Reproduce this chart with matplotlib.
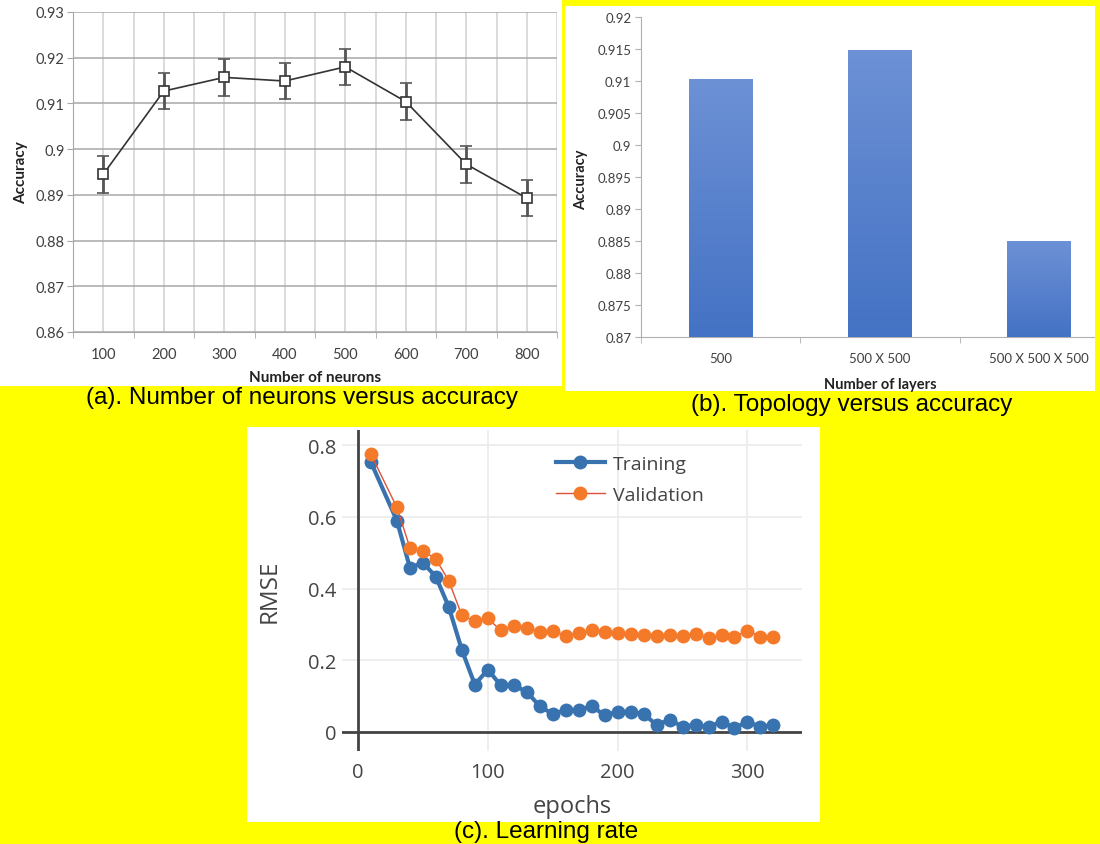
import matplotlib
matplotlib.use('Agg')
import matplotlib.pyplot as plt
from matplotlib.patches import Rectangle
from matplotlib.colors import LinearSegmentedColormap
import numpy as np

# (a) number of neurons vs accuracy
neurons = ['100', '200', '300', '400', '500', '600', '700', '800']
neuron_acc = [0.8945, 0.9127, 0.9157, 0.9149, 0.9180, 0.9104, 0.8967, 0.8893]
neuron_err = [0.004, 0.004, 0.004, 0.004, 0.004, 0.004, 0.004, 0.004]
neuron_yticks = [0.86, 0.87, 0.88, 0.89, 0.90, 0.91, 0.92, 0.93]
neuron_ylabels = ['0.86', '0.87', '0.88', '0.89', '0.9', '0.91', '0.92', '0.93']

# (b) topology vs accuracy
layers = ['500', '500 X 500', '500 X 500 X 500']
layer_acc = [0.9103, 0.9147, 0.8850]
layer_yticks = [0.87, 0.875, 0.88, 0.885, 0.89, 0.895, 0.90, 0.905, 0.91, 0.915, 0.92]
layer_ylabels = ['0.87', '0.875', '0.88', '0.885', '0.89', '0.895', '0.9',
                 '0.905', '0.91', '0.915', '0.92']

# (c) learning curve
epochs = [10, 30, 40, 50, 60, 70, 80, 90, 100, 110, 120, 130, 140, 150, 160,
          170, 180, 190, 200, 210, 220, 230, 240, 250, 260, 270, 280, 290,
          300, 310, 320]
rmse_train = [0.752, 0.589, 0.458, 0.472, 0.433, 0.348, 0.229, 0.132, 0.174,
              0.130, 0.130, 0.112, 0.072, 0.050, 0.061, 0.060, 0.073, 0.046,
              0.057, 0.056, 0.050, 0.020, 0.034, 0.015, 0.020, 0.014, 0.029,
              0.011, 0.029, 0.014, 0.020]
rmse_val = [0.774, 0.626, 0.514, 0.506, 0.482, 0.421, 0.325, 0.309, 0.317,
            0.283, 0.295, 0.290, 0.279, 0.282, 0.268, 0.275, 0.284, 0.278,
            0.275, 0.272, 0.270, 0.268, 0.271, 0.268, 0.274, 0.261, 0.270,
            0.266, 0.282, 0.266, 0.264]

W, H = 1100, 845
YELLOW = '#ffff00'
fig = plt.figure(figsize=(W / 100, H / 100), dpi=100, facecolor=YELLOW)


def fx(px):
  return px / W


def fy(py):
  return 1 - py / H


def rect(x0, y0, x1, y1, color, z=-1):
  fig.add_artist(Rectangle((fx(x0), fy(y1)), fx(x1) - fx(x0), fy(y0) - fy(y1),
                           transform=fig.transFigure, facecolor=color,
                           edgecolor='none', zorder=z))


def axes_at(x0, y0, x1, y1):
  return fig.add_axes([fx(x0), fy(y1), fx(x1) - fx(x0), fy(y0) - fy(y1)])


# white panels
rect(0, 0, 562, 387, 'white')
rect(565, 7, 1095, 392, 'white')
rect(247, 428, 820, 823, 'white')

XLFONT = 'Lato'
TXT = '#404040'
LBL = '#222222'

# ---- (a)
ax = axes_at(73, 13, 557, 333)
xs = np.arange(1, len(neurons) + 1)
ax.errorbar(xs, neuron_acc, yerr=neuron_err, color='#333333', lw=1.2,
            marker='s', ms=7, mfc='white', mec='#333333', mew=1.2,
            ecolor='#555555', elinewidth=2, capsize=4, capthick=1.5, zorder=3)
ax.set_xlim(0.5, len(neurons) + 0.5)
ax.set_ylim(0.86, 0.93)
ax.set_xticks(xs)
ax.set_xticklabels(neurons)
ax.set_xticks(np.arange(0.5, len(neurons) + 1, 1), minor=True)
ax.set_yticks(neuron_yticks)
ax.set_yticklabels(neuron_ylabels)
ax.yaxis.grid(True, color='#a8a8a8', lw=1.1)
ax.xaxis.grid(True, which='both', color='#d8d8d8', lw=1.3)
ax.set_axisbelow(True)
for s in ['top', 'right']:
  ax.spines[s].set_visible(False)
for s in ['left', 'bottom']:
  ax.spines[s].set_color('#a8a8a8')
ax.tick_params(axis='x', which='major', length=0, pad=11)
ax.tick_params(axis='x', which='minor', length=4, color='#a8a8a8')
ax.tick_params(axis='y', length=4, color='#a8a8a8', pad=2)
ax.tick_params(labelsize=10.5, labelcolor=TXT)
for t in ax.get_xticklabels() + ax.get_yticklabels():
  t.set_family(XLFONT)
ax.set_xlabel('Number of neurons', family=XLFONT, weight='bold', fontsize=11,
              color=LBL, va='center')
ax.set_ylabel('Accuracy', family=XLFONT, weight='bold', fontsize=11,
              color=LBL, va='center')
ax.xaxis.set_label_coords(0.5, -0.141)
ax.yaxis.set_label_coords(-0.108, 0.5)

# ---- (b)
bx = axes_at(641, 18, 1119, 338)
bpos = np.arange(len(layers))
bars = bx.bar(bpos, layer_acc, width=0.4, color='#5a84cd', zorder=2)
# soft vertical shading like the spreadsheet bars
shade = LinearSegmentedColormap.from_list('shade', ['#4472c4', '#6d91d5'])
grad = np.linspace(0, 1, 256).reshape(-1, 1)
for b in bars:
  bx.imshow(grad, cmap=shade, origin='lower', aspect='auto', zorder=3,
            extent=[b.get_x(), b.get_x() + b.get_width(), 0.87, b.get_height()])
bx.set_xlim(-0.5, len(layers) - 0.5)
bx.set_ylim(0.87, 0.92)
bx.set_xticks(bpos)
bx.set_xticklabels(layers)
bx.set_xticks(np.arange(-0.5, len(layers), 1), minor=True)
bx.set_yticks(layer_yticks)
bx.set_yticklabels(layer_ylabels)
for s in ['top', 'right']:
  bx.spines[s].set_visible(False)
for s in ['left', 'bottom']:
  bx.spines[s].set_color('#b0b0b0')
bx.tick_params(axis='x', which='major', length=0, pad=11)
bx.tick_params(axis='x', which='minor', length=4, color='#b0b0b0')
bx.tick_params(axis='y', length=4, color='#b0b0b0', pad=3)
bx.tick_params(labelsize=9.5, labelcolor=TXT)
for t in bx.get_xticklabels() + bx.get_yticklabels():
  t.set_family(XLFONT)
bx.set_xlabel('Number of layers', family=XLFONT, weight='bold', fontsize=10.5,
              color=LBL, va='center')
bx.set_ylabel('Accuracy', family=XLFONT, weight='bold', fontsize=10.5,
              color=LBL, va='center')
bx.xaxis.set_label_coords(0.5, -0.147)
bx.yaxis.set_label_coords(-0.1255, 0.494)

# yellow border on the right edge of panel (b), drawn over the axis line
rect(1095, 0, 1100, 392, YELLOW, z=5)

# ---- (c)
cx = axes_at(342, 431, 802, 752)
cx.set_xlim(-12.3, 342)
cx.set_ylim(-0.053, 0.842)
cx.set_xticks([0, 100, 200, 300])
cx.set_yticks([0, 0.2, 0.4, 0.6, 0.8])
cx.set_yticklabels(['0', '0.2', '0.4', '0.6', '0.8'])
cx.grid(True, color='#ebebeb', lw=1.2)
cx.set_axisbelow(True)
for s in cx.spines.values():
  s.set_visible(False)
cx.axhline(0, color='#444444', lw=2, zorder=1)
cx.axvline(0, color='#444444', lw=2, zorder=1)
cx.plot(epochs, rmse_train, color='#3873b0', lw=3, marker='o', ms=9,
        label='Training', zorder=3)
cx.plot(epochs, rmse_val, color='#e0503c', lw=1, marker='o', ms=9,
        mfc='#f47a2a', mec='#f47a2a', label='Validation', zorder=4)
cx.tick_params(length=0, labelsize=14.5, labelcolor='#444444')
cx.tick_params(axis='y', pad=4)
cx.tick_params(axis='x', pad=8)
for t in cx.get_xticklabels() + cx.get_yticklabels():
  t.set_family('Open Sans')
cx.set_xlabel('epochs', family='Open Sans', fontsize=17, color='#444444',
              va='center')
cx.set_ylabel('RMSE', family='Open Sans', fontsize=17.5, color='#444444',
              va='center')
cx.xaxis.set_label_coords(0.5, -0.17)
cx.yaxis.set_label_coords(-0.157, 0.5)
cx.legend(loc='upper left', bbox_to_anchor=((556 - 342) / 460, (752 - 456) / 321),
          frameon=False, borderaxespad=0, borderpad=0, handlelength=2.5,
          handletextpad=0.45, labelspacing=0.66,
          prop={'family': 'Open Sans', 'size': 14}, labelcolor='#444444')

# captions
cap = dict(ha='center', va='center', fontsize=17.5, family='Liberation Sans',
           color='black')
fig.text(fx(302), fy(398), '(a). Number of neurons versus accuracy', **cap)
fig.text(fx(852), fy(405), '(b). Topology versus accuracy', **cap)
fig.text(fx(546), fy(832), '(c). Learning rate', **cap)

fig.savefig('out.png', dpi=100, facecolor=YELLOW)
